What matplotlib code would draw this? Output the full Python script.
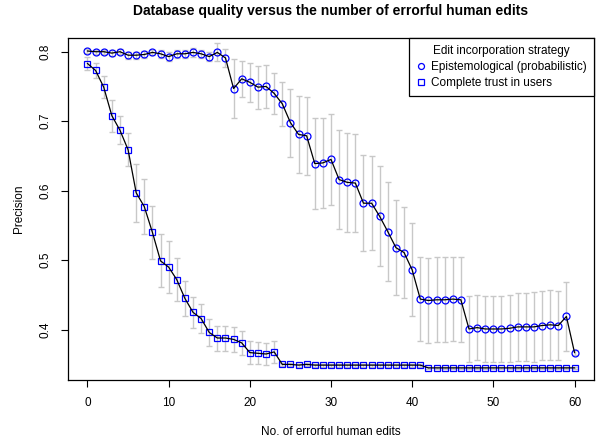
import matplotlib
matplotlib.use("Agg")
import matplotlib.pyplot as plt
import numpy as np
from matplotlib.lines import Line2D

plt.rcParams['font.family'] = ['Liberation Sans', 'DejaVu Sans']

edits = list(range(0, 61))

epi_mean = [0.801, 0.800, 0.800, 0.798, 0.800, 0.795, 0.795, 0.796, 0.799, 0.797,
            0.793, 0.797, 0.797, 0.799, 0.797, 0.793, 0.799, 0.791, 0.747, 0.761,
            0.756, 0.749, 0.750, 0.740, 0.725, 0.698, 0.681, 0.679, 0.639, 0.640,
            0.645, 0.616, 0.612, 0.611, 0.582, 0.582, 0.563, 0.541, 0.518, 0.511,
            0.486, 0.444, 0.442, 0.443, 0.443, 0.444, 0.443, 0.401, 0.403, 0.401,
            0.401, 0.401, 0.402, 0.404, 0.404, 0.404, 0.406, 0.407, 0.406, 0.419,
            0.367]
epi_err = [0.003, 0.003, 0.003, 0.004, 0.004, 0.005, 0.005, 0.005, 0.004, 0.006,
           0.006, 0.006, 0.006, 0.006, 0.006, 0.007, 0.013, 0.013, 0.043, 0.026,
           0.028, 0.031, 0.031, 0.029, 0.032, 0.049, 0.055, 0.056, 0.065, 0.065,
           0.066, 0.071, 0.071, 0.070, 0.069, 0.068, 0.072, 0.071, 0.068, 0.065,
           0.067, 0.061, 0.061, 0.061, 0.061, 0.061, 0.061, 0.048, 0.047, 0.047,
           0.048, 0.048, 0.048, 0.049, 0.049, 0.050, 0.050, 0.050, 0.050, 0.050,
           0.004]

trust_mean = [0.783, 0.773, 0.749, 0.708, 0.687, 0.659, 0.597, 0.577, 0.540, 0.499,
              0.490, 0.472, 0.445, 0.425, 0.416, 0.396, 0.388, 0.388, 0.386, 0.381,
              0.367, 0.366, 0.365, 0.368, 0.350, 0.350, 0.349, 0.350, 0.349, 0.349,
              0.349, 0.349, 0.349, 0.349, 0.349, 0.349, 0.349, 0.349, 0.349, 0.349,
              0.349, 0.349, 0.345, 0.345, 0.345, 0.345, 0.345, 0.345, 0.345, 0.345,
              0.345, 0.345, 0.345, 0.345, 0.345, 0.345, 0.345, 0.345, 0.345, 0.345,
              0.345]
trust_err = [0.010, 0.011, 0.016, 0.023, 0.020, 0.024, 0.042, 0.040, 0.038, 0.038,
             0.037, 0.031, 0.025, 0.022, 0.021, 0.020, 0.018, 0.018, 0.018, 0.017,
             0.016, 0.016, 0.016, 0.016, 0.002, 0.002, 0.002, 0.002, 0.002, 0.002,
             0.002, 0.002, 0.002, 0.002, 0.002, 0.002, 0.002, 0.002, 0.002, 0.002,
             0.002, 0.002, 0.001, 0.001, 0.001, 0.001, 0.001, 0.001, 0.001, 0.001,
             0.001, 0.001, 0.001, 0.001, 0.001, 0.001, 0.001, 0.001, 0.001, 0.001,
             0.001]

title = "Database quality versus the number of errorful human edits"
xlabel = "No. of errorful human edits"
ylabel = "Precision"
legend_title = "Edit incorporation strategy"
series_names = ["Epistemological (probabilistic)", "Complete trust in users"]
xticks = [0, 10, 20, 30, 40, 50, 60]
yticks = [0.4, 0.5, 0.6, 0.7, 0.8]

fig = plt.figure(figsize=(5.96, 4.40), dpi=100)
ax = fig.add_axes([68/596, 1-379.5/440, (594-68)/596, (379.5-38.3)/440])

errcol = '#c8c8c8'
for mean, err, mk in [(epi_mean, epi_err, 'o'), (trust_mean, trust_err, 's')]:
    ax.errorbar(edits, mean, yerr=err, fmt='none', ecolor=errcol, elinewidth=1.0,
                capsize=2.2, capthick=1.0, zorder=1)
    ax.plot(edits, mean, linestyle='none', marker=mk, markersize=5 if mk == 'o' else 4.6,
            markerfacecolor='none', markeredgecolor='#0000ff', markeredgewidth=0.9, zorder=2)
    ax.plot(edits, mean, color='black', linewidth=0.9, zorder=3)

ax.set_xlim(-2.4, 62.4)
ax.set_ylim(0.3283, 0.8193)
ax.set_xticks(xticks)
ax.set_xticklabels([str(t) for t in xticks], fontsize=8.5)
ax.set_yticks(yticks)
ax.set_yticklabels([f"{t:.1f}" for t in yticks], fontsize=8.5, rotation=90, va='center')
ax.tick_params(axis='x', direction='out', length=5, width=0.8, color='black', pad=7.5)
ax.tick_params(axis='y', direction='out', length=5, width=0.8, color='black', pad=7)
for s in ax.spines.values():
    s.set_linewidth(0.9)
    s.set_color('black')

fig.text((68 + 594) / 2 / 596, 1 - 10.5 / 440, title, fontsize=10, fontweight='bold',
         ha='center', va='center')
ax.set_xlabel(xlabel, fontsize=8.5, labelpad=12.5)
ax.set_ylabel(ylabel, fontsize=8.5, labelpad=10.5)

handles = [Line2D([], [], linestyle='none', marker='o', markersize=4.3, markerfacecolor='none',
                  markeredgecolor='#0000ff', markeredgewidth=0.9),
           Line2D([], [], linestyle='none', marker='s', markersize=4.0, markerfacecolor='none',
                  markeredgecolor='#0000ff', markeredgewidth=0.9)]
leg = ax.legend(handles, series_names, title=legend_title, loc='upper right',
                borderaxespad=0, fontsize=8.5, title_fontsize=8.5, fancybox=False,
                framealpha=1, edgecolor='black', handlelength=0.8, handletextpad=0.5,
                labelspacing=0.32, borderpad=0.6)
leg.get_frame().set_linewidth(0.9)

fig.savefig("out.png", dpi=100)
